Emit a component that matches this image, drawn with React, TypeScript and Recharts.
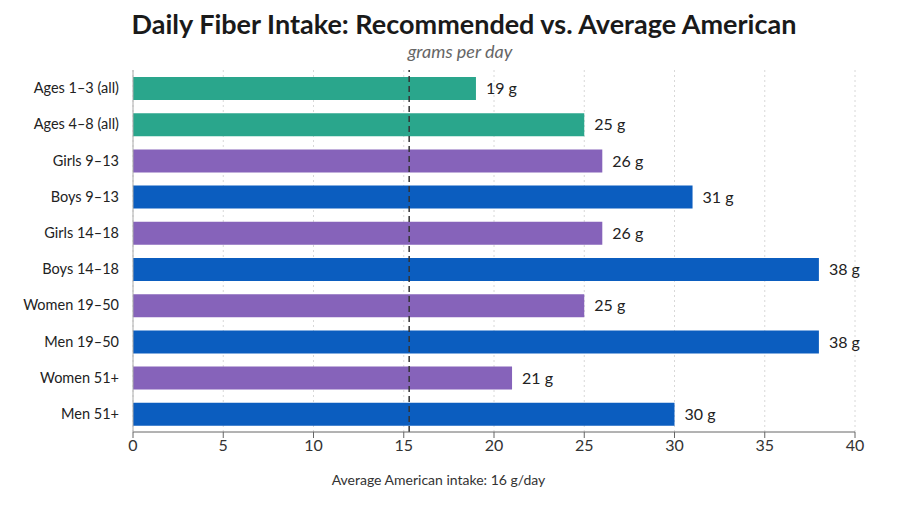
import React from "react";
import { BarChart, Bar, XAxis, YAxis, CartesianGrid, Cell, LabelList, ReferenceLine } from "recharts";

const groups = [
  "Ages 1–3 (all)",
  "Ages 4–8 (all)",
  "Girls 9–13",
  "Boys 9–13",
  "Girls 14–18",
  "Boys 14–18",
  "Women 19–50",
  "Men 19–50",
  "Women 51+",
  "Men 51+",
];
const recommended = [19, 25, 26, 31, 26, 38, 25, 38, 21, 30];
const kinds = ["child", "child", "female", "male", "female", "male", "female", "male", "female", "male"];
const xTicks = [0, 5, 10, 15, 20, 25, 30, 35, 40];
const averageIntake = 15.3;

const kindColor: Record<string, string> = {
  child: "#2aa68c",
  female: "#8663ba",
  male: "#0b5dbf",
};

const data = groups.map((name, i) => ({ name, value: recommended[i], kind: kinds[i] }));

const FONT = "Lato, 'Open Sans', sans-serif";

export default function App() {
  return (
    <div style={{ position: "relative", width: 900, height: 507, fontFamily: FONT, background: "#fff" }}>
      <style>{`body{margin:0}`}</style>
      <div
        style={{
          position: "absolute",
          top: 7,
          left: 14,
          width: 900,
          textAlign: "center",
          fontSize: 27,
          fontWeight: 700,
          color: "#1a1a1a",
        }}
      >
        Daily Fiber Intake: Recommended vs. Average American
      </div>
      <div
        style={{
          position: "absolute",
          top: 40,
          left: 10,
          width: 900,
          textAlign: "center",
          fontSize: 18,
          fontStyle: "italic",
          color: "#666",
        }}
      >
        grams per day
      </div>
      <BarChart
        width={900}
        height={507}
        data={data}
        layout="vertical"
        margin={{ top: 70, right: 45, left: 0, bottom: 45 }}
        barSize={23}
      >
        <CartesianGrid horizontal={false} stroke="#d8d8d8" strokeDasharray="2 3" />
        <XAxis
          type="number"
          domain={[0, 40]}
          ticks={xTicks}
          height={30}
          axisLine={{ stroke: "#666" }}
          tickLine={{ stroke: "#666" }}
          tick={{ fontSize: 16, fill: "#333", fontFamily: FONT }}
        />
        <YAxis
          type="category"
          dataKey="name"
          width={133}
          axisLine={{ stroke: "#aaa" }}
          tickLine={false}
          tickMargin={8}
          tick={{ fontSize: 14.5, fill: "#222", fontFamily: FONT }}
        />
        <ReferenceLine x={averageIntake} stroke="#333" strokeDasharray="6 4" strokeWidth={1.5} />
        <Bar dataKey="value" isAnimationActive={false}>
          {data.map((d) => (
            <Cell key={d.name} fill={kindColor[d.kind]} />
          ))}
          <LabelList
            dataKey="value"
            position="right"
            offset={10}
            formatter={(v: any) => `${v} g`}
            style={{ fontSize: 16, fill: "#222", fontFamily: FONT }}
          />
        </Bar>
      </BarChart>
      <div
        style={{
          position: "absolute",
          top: 471,
          left: 133,
          width: 611,
          textAlign: "center",
          fontSize: 14,
          color: "#333",
        }}
      >
        Average American intake: 16 g/day
      </div>
    </div>
  );
}
